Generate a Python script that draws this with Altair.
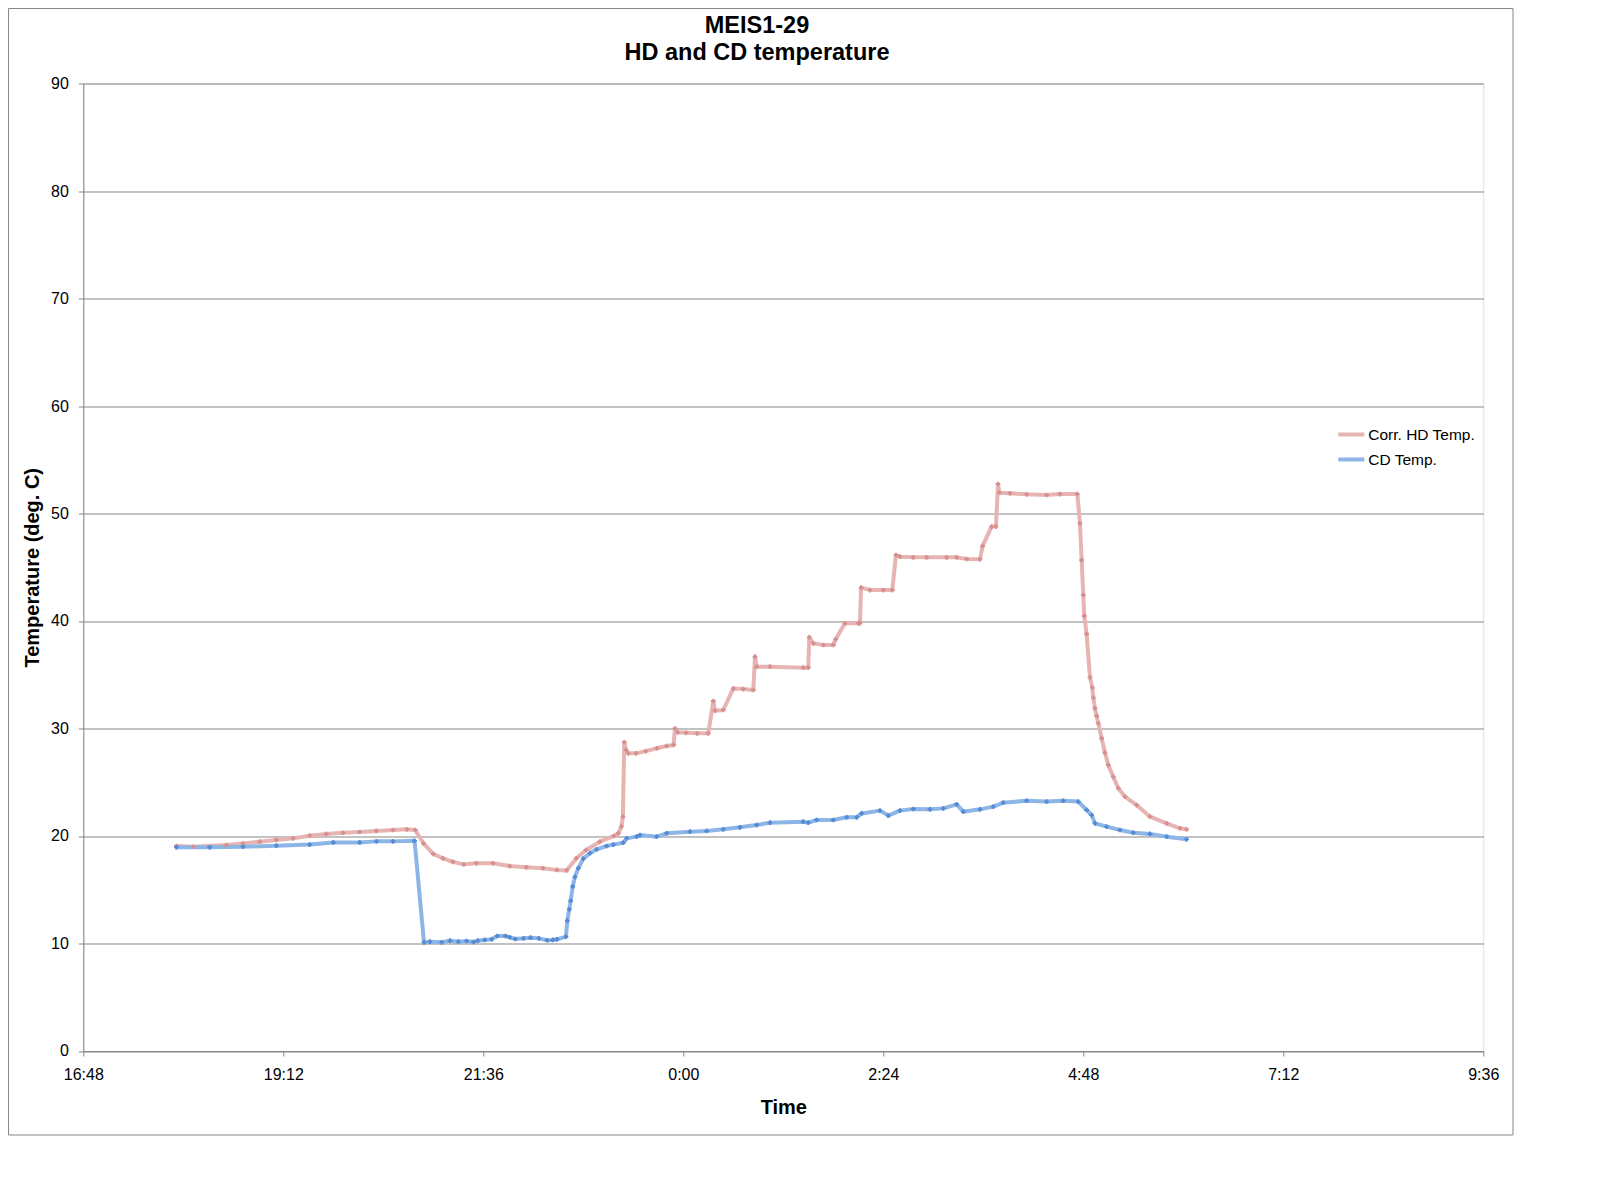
import altair as alt
import pandas as pd

# ---- data ----
series_names = ["Corr. HD Temp.", "CD Temp."]
title_lines = ["MEIS1-29", "HD and CD temperature"]

hd_time = ["17:55", "18:07", "18:31", "18:43", "18:55", "19:07", "19:19", "19:31", "19:43", "19:55",
           "20:07", "20:19", "20:31", "20:41", "20:47", "20:53", "21:00", "21:07", "21:14", "21:22",
           "21:31", "21:43", "21:55", "22:07", "22:19", "22:29", "22:36", "22:43", "22:50", "23:00",
           "23:10", "23:13:12", "23:15:30", "23:16:30", "23:17:30", "23:18:42", "23:20:24", "23:26", "23:33", "23:41",
           "23:48", "23:53", "23:54", "23:56", "0:02", "0:10", "0:18", "0:21:36", "0:22:48", "0:28:48",
           "0:36", "0:43:12", "0:50:24", "0:51:36", "0:52:48", "1:02:24", "1:26:24", "1:30", "1:30:42", "1:33:36",
           "1:40:48", "1:48", "1:49:42", "1:56:24", "2:06", "2:07:12", "2:08", "2:14:24", "2:24", "2:30:30",
           "2:33:06", "2:36", "2:45:36", "2:55:12", "3:09:36", "3:16:48", "3:24", "3:33:36", "3:35:30", "3:42",
           "3:45:06", "3:46:36", "3:47:30", "3:55:12", "4:07:12", "4:21:36", "4:31:12", "4:43:42", "4:45:36", "4:46:48",
           "4:48", "4:48:42", "4:50:24", "4:52:48", "4:54:30", "4:55:12", "4:56:24", "4:57:36", "4:58:48", "5:01:12",
           "5:03:36", "5:06", "5:09:36", "5:13:12", "5:18", "5:26:24", "5:36", "5:48", "5:57:36", "6:02:24"]
hd_temp = [19.07, 19.0, 19.16, 19.3, 19.47, 19.63, 19.78, 20.03, 20.19, 20.3,
           20.37, 20.47, 20.56, 20.62, 20.56, 19.3, 18.33, 17.92, 17.6, 17.36,
           17.46, 17.46, 17.2, 17.09, 17.0, 16.84, 16.8, 17.93, 18.7, 19.47,
           20.0, 20.25, 20.9, 21.8, 28.72, 28.0, 27.69, 27.69, 27.9, 28.16,
           28.37, 28.47, 30.0, 29.64, 29.6, 29.55, 29.55, 32.56, 31.66, 31.72,
           33.73, 33.67, 33.58, 36.68, 35.75, 35.75, 35.66, 35.66, 38.48, 37.92,
           37.77, 37.77, 38.3, 39.78, 39.78, 39.8, 43.1, 42.88, 42.88, 42.88,
           46.14, 45.98, 45.92, 45.92, 45.92, 45.92, 45.77, 45.74, 46.98, 48.78,
           48.78, 52.74, 51.94, 51.88, 51.78, 51.72, 51.81, 51.81, 49.09, 45.67,
           42.42, 40.47, 38.79, 34.76, 33.8, 32.87, 31.88, 31.16, 30.48, 29.09,
           27.75, 26.6, 25.5, 24.44, 23.66, 22.88, 21.8, 21.18, 20.72, 20.62]

cd_time = ["17:55", "18:19", "18:43", "19:07", "19:31", "19:48", "20:07", "20:19", "20:31", "20:46:30",
           "20:53:18", "20:57:36", "21:06", "21:12", "21:18", "21:24", "21:29", "21:32", "21:37", "21:42",
           "21:46", "21:52", "21:55", "21:59", "22:05", "22:10", "22:16", "22:22", "22:26", "22:29",
           "22:35:30", "22:36:30", "22:37:54", "22:38:54", "22:40:24", "22:42", "22:44:24", "22:48", "22:52:48", "22:57:36",
           "23:04:48", "23:09:36", "23:16:48", "23:19:12", "23:26:24", "23:28:48", "23:40:48", "23:48", "0:04:48", "0:16:48",
           "0:28:48", "0:40:48", "0:52:48", "1:02:24", "1:26:24", "1:30", "1:36", "1:48", "1:57:36", "2:04:48",
           "2:08:24", "2:21:36", "2:27:36", "2:36", "2:45:36", "2:57:36", "3:07:12", "3:16:48", "3:21:36", "3:33:36",
           "3:43:12", "3:50:24", "4:07:12", "4:21:36", "4:33:36", "4:44:24", "4:50:24", "4:54", "4:56:24", "5:04:48",
           "5:14:24", "5:24", "5:36", "5:48", "6:02:24"]
cd_temp = [18.95, 18.95, 19.0, 19.1, 19.2, 19.4, 19.4, 19.5, 19.5, 19.55,
           10.11, 10.17, 10.11, 10.26, 10.17, 10.23, 10.14, 10.26, 10.33, 10.39,
           10.7, 10.7, 10.58, 10.42, 10.48, 10.54, 10.48, 10.3, 10.33, 10.39,
           10.63, 12.12, 13.18, 13.98, 15.3, 16.2, 17.0, 17.9, 18.4, 18.76,
           19.07, 19.2, 19.38, 19.78, 19.94, 20.09, 19.94, 20.25, 20.4, 20.47,
           20.62, 20.81, 21.02, 21.24, 21.33, 21.24, 21.49, 21.49, 21.74, 21.74,
           22.1, 22.36, 21.9, 22.36, 22.51, 22.48, 22.57, 22.95, 22.26, 22.48,
           22.73, 23.1, 23.28, 23.2, 23.28, 23.2, 22.42, 21.95, 21.18, 20.87,
           20.56, 20.31, 20.19, 19.94, 19.69]

x_tick_labels = ["16:48", "19:12", "21:36", "0:00", "2:24", "4:48", "7:12", "9:36"]
y_ticks = [0, 10, 20, 30, 40, 50, 60, 70, 80, 90]

line_colors = ["#E6B4B3", "#8DB5E6"]
marker_colors = ["#D78F8D", "#5089D4"]
FONT = "Liberation Sans"
GRAY = "#868686"


def clock_to_iso(s):
    parts = [int(p) for p in s.split(":")]
    h, m = parts[0], parts[1]
    sec = parts[2] if len(parts) > 2 else 0
    day = 2 if h < 12 else 1
    return f"2012-01-{day:02d}T{h:02d}:{m:02d}:{sec:02d}"


def clock_to_dt(s):
    h, m = [int(p) for p in s.split(":")]
    day = 2 if h < 12 else 1
    return alt.DateTime(year=2012, month=1, date=day, hours=h, minutes=m)


rows = []
for name, times, temps in [(series_names[0], hd_time, hd_temp), (series_names[1], cd_time, cd_temp)]:
    for i, (t, v) in enumerate(zip(times, temps)):
        rows.append({"time": clock_to_iso(t), "temp": v, "series": name, "idx": i})
df = pd.DataFrame(rows)

x_enc = alt.X(
    "time:T",
    scale=alt.Scale(domain=[clock_to_dt(x_tick_labels[0]), clock_to_dt(x_tick_labels[-1])], nice=False),
    axis=alt.Axis(
        values=[clock_to_dt(t) for t in x_tick_labels],
        format="%-H:%M",
        grid=False,
        domainColor=GRAY,
        tickColor=GRAY,
        tickSize=5,
        labelPadding=11,
        labelFlush=False,
        labelFontSize=16,
        labelFont=FONT,
        labelColor="black",
        title="Time",
        titleFont=FONT,
        titleFontSize=20,
        titleFontWeight="bold",
        titleColor="black",
        titleX=700,
        titleY=63,
        titleBaseline="alphabetic",
        titleAlign="center",
    ),
)
y_enc = alt.Y(
    "temp:Q",
    scale=alt.Scale(domain=[0, 90], nice=False),
    axis=alt.Axis(
        values=y_ticks,
        grid=True,
        gridColor=GRAY,
        gridWidth=1,
        domainColor=GRAY,
        tickColor=GRAY,
        tickSize=5,
        labelPadding=10,
        labelFlush=False,
        labelFontSize=16,
        labelFont=FONT,
        labelColor="black",
        title="Temperature (deg. C)",
        titleFont=FONT,
        titleFontSize=20,
        titleFontWeight="bold",
        titleColor="black",
        titleAngle=270,
        titleX=-45,
        titleY=483.75,
        titleBaseline="alphabetic",
        titleAlign="center",
    ),
)

base = alt.Chart(df)

lines = base.mark_line(strokeWidth=4, strokeJoin="round").encode(
    x=x_enc,
    y=y_enc,
    order=alt.Order("idx:Q"),
    color=alt.Color(
        "series:N",
        scale=alt.Scale(domain=series_names, range=line_colors),
        sort=series_names,
        title=None,
        legend=alt.Legend(
            orient="none",
            legendX=1253,
            legendY=336,
            symbolType="stroke",
            symbolSize=676,
            symbolStrokeWidth=4,
            labelFont=FONT,
            labelFontSize=15.5,
            labelColor="black",
            labelOffset=2,
            rowPadding=1,
            padding=0,
        ),
    ),
)

points = base.mark_point(shape="cross", filled=True, size=22, opacity=1).encode(
    x=x_enc,
    y=y_enc,
    fill=alt.Fill("series:N", scale=alt.Scale(domain=series_names, range=marker_colors), legend=None),
)

frame = alt.Chart(pd.DataFrame({"f": [0]})).mark_rect(
    fillOpacity=0, stroke=GRAY, strokeWidth=1
).encode(
    x=alt.value(-74.8), x2=alt.value(1429.7), y=alt.value(-75), y2=alt.value(1051.5)
)

title = alt.Chart(pd.DataFrame({"f": [0]})).mark_text(
    font=FONT, fontSize=23.5, fontWeight="bold", color="black",
    align="center", baseline="alphabetic", lineHeight=27,
).encode(
    x=alt.value(673.7), y=alt.value(-50.2), text=alt.value(title_lines)
)

chart = alt.layer(frame, title, lines, points).resolve_scale(color="independent", fill="independent").properties(
    width=1400,
    height=967.5,
    autosize=alt.AutoSizeParams(type="none"),
    padding={"left": 75.3, "top": 75.5, "right": 40, "bottom": 90},
).configure_view(strokeWidth=0, stroke="transparent").configure(background="white")

chart.save("out.html", embed_options={"renderer": "svg", "actions": False})
